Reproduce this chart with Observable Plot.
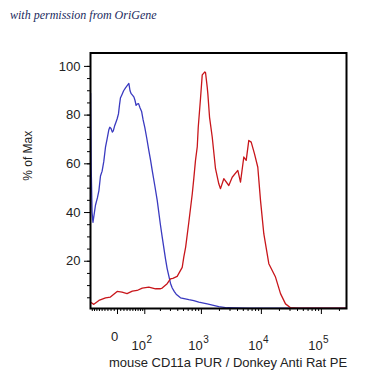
<!DOCTYPE html>
<html><head><meta charset="utf-8">
<script src="https://cdn.jsdelivr.net/npm/d3@7"></script>
<script src="https://cdn.jsdelivr.net/npm/@observablehq/plot@0.6"></script>
<style>
body{margin:0;background:#fff;}
#wrap{position:relative;width:366px;height:379px;}
#cap{position:absolute;left:10px;top:8px;font:italic 12px "Liberation Serif",serif;color:#1b2a5e;white-space:nowrap;}
</style></head><body>
<div id="wrap"><div id="cap">with permission from OriGene</div></div>
<script>
// Fluorescence intensity (PE) and % of max for each histogram
const blueFl = [-98,-95,-91,-87,-82,-76,-68,-62,-56,-50,-44,-38,-33,-27,-24,-20,-16,-13,-9,-5,-1,3,6,9,14,19,25,31,36,40,44,50,54,58,62,66,72,78,85,92,100,110,121,131,141,158,175,200,215,246,263,300,322,350,376,445,615,746,904,1250,1950,2700,6000,262144];
const bluePct = [89,58,40,36,39,43,46,49,55,57,61,67,70,74,75,74.5,73,73.5,75.5,77,78.5,80.5,84,87,88.5,90,91.2,92.2,93,90,88.8,88,87.4,86,84,84.5,84.7,83,81.5,78,75,70.5,65.5,61.5,57.3,51,45,35,30,21,17,11,9,7.5,6.5,5,4.2,3.8,3.2,2.5,1.4,0.9,0.7,0.7];
const redFl = [-98,-83,-62,-38,-22,-1,14,30,48,66,88,121,163,201,215,263,300,330,391,476,506,544,615,703,746,796,852,885,967,1032,1140,1171,1250,1280,1366,1515,1719,1950,2084,2364,2864,3264,4046,4487,5094,5585,6170,6767,7680,8716,9668,10972,13300,17196,20836,25238,30573,40000,262144];
const redPct = [3.2,2.3,3.9,5,5.3,7.6,7.3,6.7,7.7,8,9,9.4,8.7,8.7,9,10.8,12.8,13,13.8,17.5,21.7,25.8,36,47.7,54,61.4,67,75,87,96.5,97.7,97.5,91.5,88.8,79.2,71,58,51.8,49.8,53.9,51.1,54.5,57.3,52.5,62.8,61.4,69.6,68.9,64.1,58.6,45,31.3,19,13.5,6.7,2.5,0.9,0.7,0.7];

const xMajor = [0, 100, 1000, 10000, 100000];
const xBase = ["0", "10", "10", "10", "10"];
const xExp = ["", "2", "3", "4", "5"];
const yMajor = [20, 40, 60, 80, 100];
const xTitle = "mouse CD11a PUR / Donkey Anti Rat PE";
const yTitle = "% of Max";

// biexponential-like display transform (arcsinh)
const C = 80;
const biex = v => Math.asinh(v / C) / Math.LN10;

const xMinor = [
  ...d3.range(-90, 0, 10), ...d3.range(10, 100, 10),
  ...d3.range(200, 1000, 100), ...d3.range(2000, 10000, 1000),
  ...d3.range(20000, 100000, 10000), 200000
];
const yMinor = d3.range(5, 105, 5);

const blueRows = blueFl.map((v, i) => ({x: biex(v), y: bluePct[i]}));
const redRows = redFl.map((v, i) => ({x: biex(v), y: redPct[i]}));
const labelRows = xMajor.map((v, i) => ({x: biex(v), base: xBase[i], exp: xExp[i]}));

const plot = Plot.plot({
  width: 366, height: 379,
  marginLeft: 90, marginRight: 20, marginTop: 52.5, marginBottom: 71,
  style: {fontFamily: "'Liberation Sans', Arial, sans-serif", background: "transparent", color: "#222"},
  x: {domain: [biex(-98.5), biex(262144)], axis: null},
  y: {domain: [0.6, 105.5], axis: null},
  marks: [
    Plot.line(blueRows, {x: "x", y: "y", stroke: "#3a3ac0", strokeWidth: 1.3}),
    Plot.line(redRows, {x: "x", y: "y", stroke: "#c8161b", strokeWidth: 1.3}),
    Plot.axisY({ticks: yMinor, tickSize: 3, tickFormat: () => "", label: null, stroke: "black"}),
    Plot.axisY({ticks: yMajor, tickSize: 6, tickPadding: 4, fontSize: 13, label: null, stroke: "black", fill: "#222"}),
    Plot.axisX({ticks: xMinor.map(biex), tickSize: 3, tickFormat: () => "", label: null, stroke: "black"}),
    Plot.axisX({ticks: xMajor.map(biex), tickSize: 6, tickFormat: () => "", label: null, stroke: "black"}),
    Plot.text(labelRows.filter(d => d.exp === ""), {x: "x", text: "base", frameAnchor: "bottom", dy: 28, dx: -3, fontSize: 13, lineAnchor: "middle", fill: "#222"}),
    Plot.text(labelRows.filter(d => d.exp !== ""), {x: "x", text: "base", frameAnchor: "bottom", dy: 37.5, dx: -6, fontSize: 13, lineAnchor: "middle", fill: "#222"}),
    Plot.text(labelRows.filter(d => d.exp !== ""), {x: "x", text: "exp", frameAnchor: "bottom", dy: 31.5, dx: 4.5, fontSize: 10, lineAnchor: "middle", fill: "#222"}),
    Plot.text([xTitle], {frameAnchor: "bottom", dy: 54.5, dx: 9.5, fontSize: 13, lineAnchor: "middle", fill: "#222"}),
    Plot.text([yTitle], {frameAnchor: "left", dx: -62, rotate: -90, fontSize: 12, lineAnchor: "middle", fill: "#222"}),
    Plot.frame({stroke: "black", strokeWidth: 2})
  ]
});
plot.style.position = "absolute";
plot.style.left = "0";
plot.style.top = "0";
document.getElementById("wrap").appendChild(plot);
</script>
</body></html>
